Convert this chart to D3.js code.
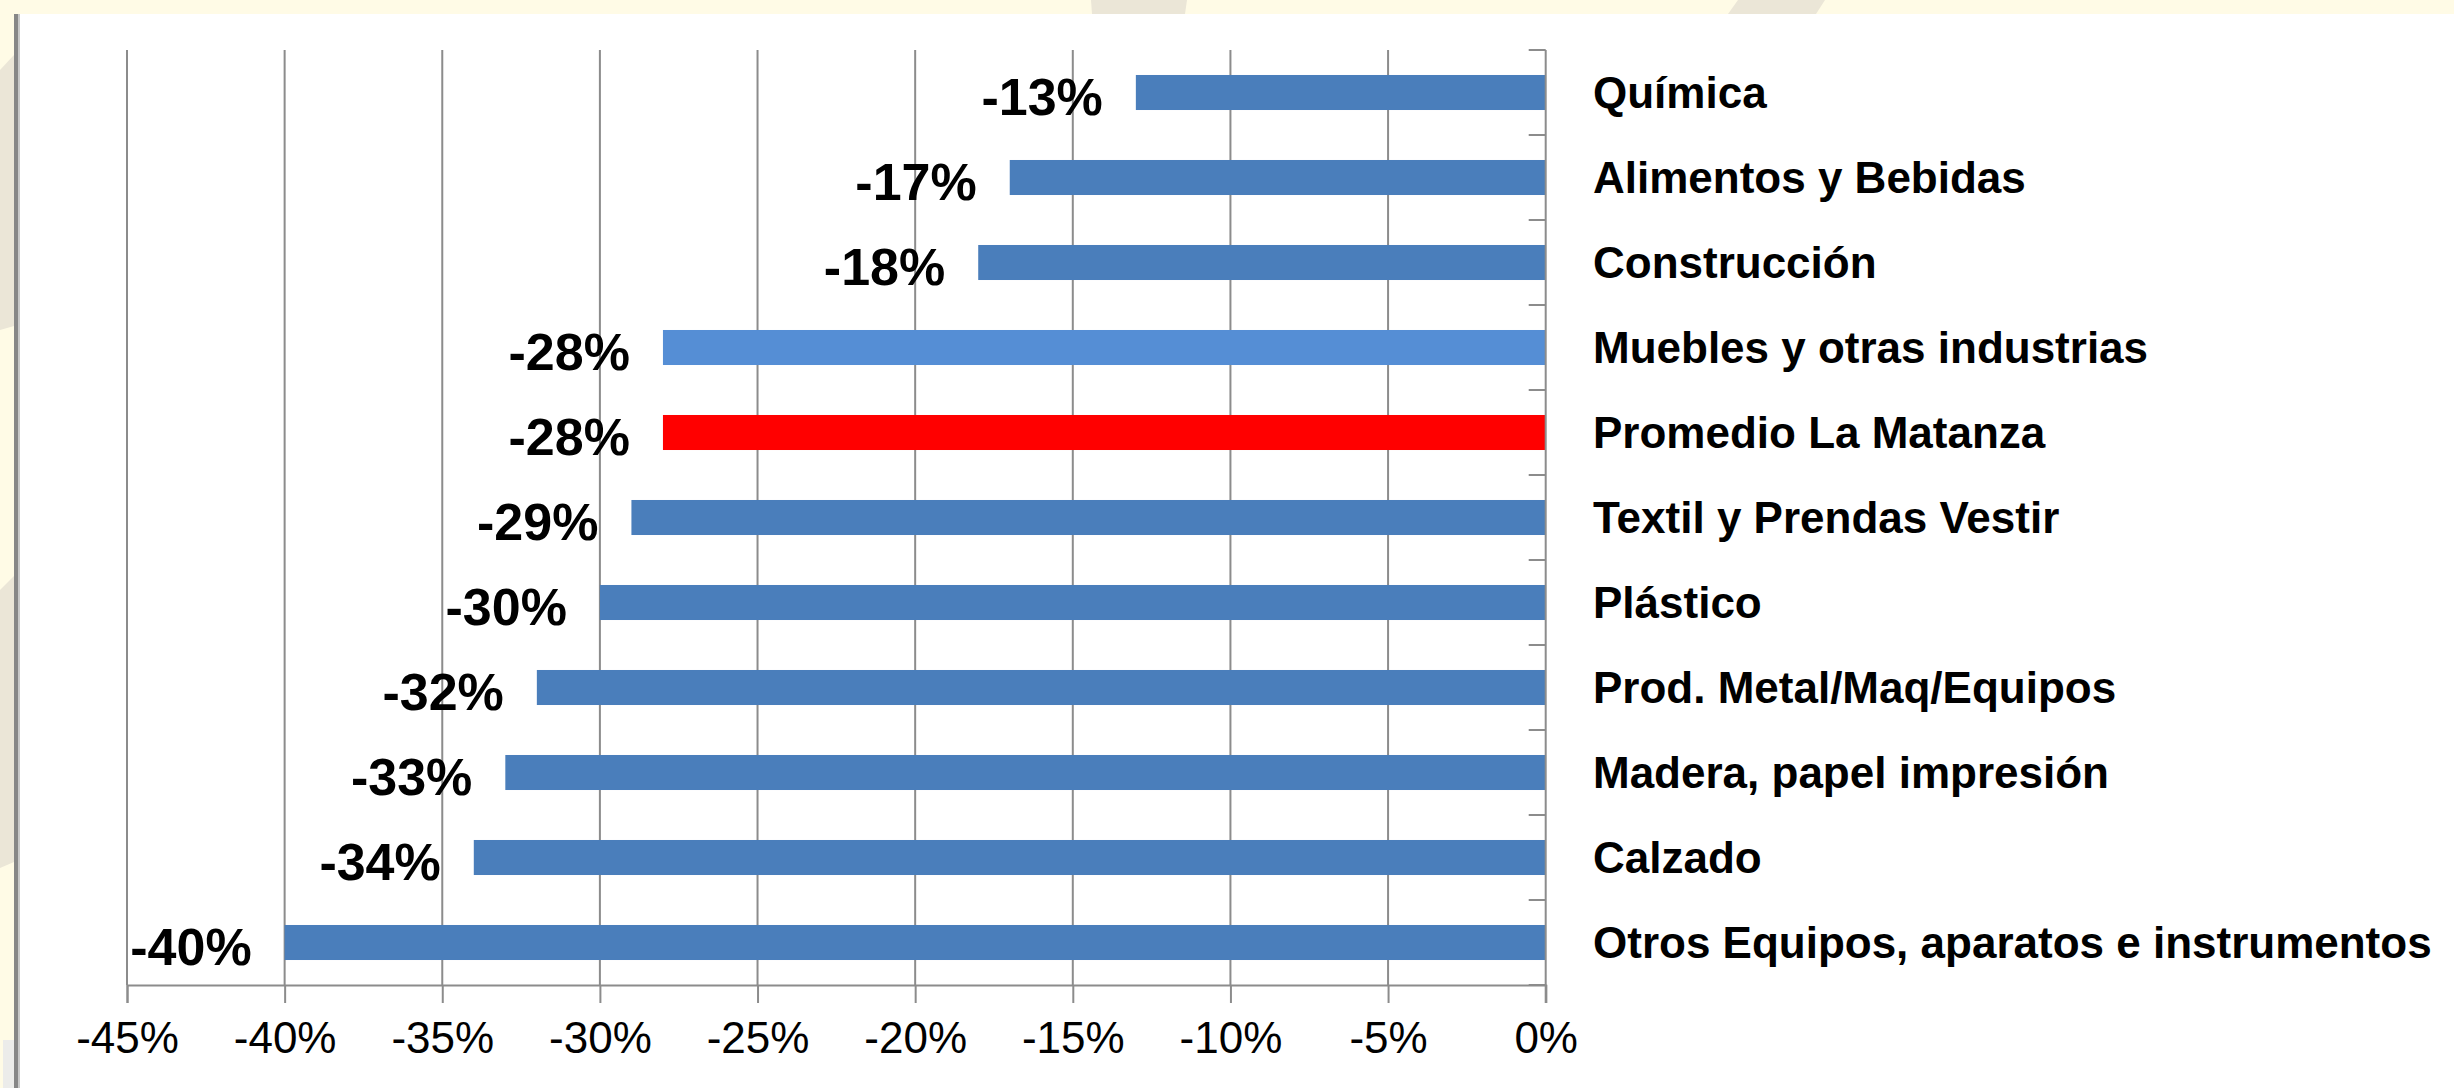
<!DOCTYPE html>
<html>
<head>
<meta charset="utf-8">
<script src="https://cdn.jsdelivr.net/npm/d3@7"></script>
<style>
  html, body { margin: 0; padding: 0; background: #fffbe6; overflow: hidden; }
  svg text { font-family: "Liberation Sans", Arial, sans-serif; fill: #000; }
</style>
</head>
<body>
<div id="chart"></div>
<script>
// data
var categories = [
  "Química",
  "Alimentos y Bebidas",
  "Construcción",
  "Muebles y otras industrias",
  "Promedio La Matanza",
  "Textil y Prendas Vestir",
  "Plástico",
  "Prod. Metal/Maq/Equipos",
  "Madera, papel impresión",
  "Calzado",
  "Otros Equipos, aparatos e instrumentos"
];
var values = [-13, -17, -18, -28, -28, -29, -30, -32, -33, -34, -40];
var xTicks = [-45, -40, -35, -30, -25, -20, -15, -10, -5, 0];

// look
var width      = 2454,
    height     = 1088,
    barColor   = "#4a7ebb",
    gridColor  = "#8c8c8c",
    special    = { "Muebles y otras industrias": "#558ed5", "Promedio La Matanza": "#ff0000" };

var svg = d3.select("#chart").append("svg")
    .attr("width", width)
    .attr("height", height);

// background: cream frame with faint watermark shapes, white panel on top
svg.append("rect").attr("width", width).attr("height", height).style("fill", "#fffbe6");
var shapes = [
  [[1091, 0], [1187, 0], [1185, 14], [1092, 14]],
  [[1738, 0], [1825, 0], [1816, 14], [1728, 14]],
  [[0, 70], [14, 55], [14, 326], [0, 330]],
  [[0, 590], [14, 576], [14, 862], [0, 868]]
];
shapes.forEach(function (p) {
  svg.append("polygon")
    .attr("points", p.join(" "))
    .style("fill", "#ebe6d7");
});
svg.append("rect")
  .attr("x", 3).attr("y", 1040)
  .attr("width", 11).attr("height", 48)
  .style("fill", "#ececea");
svg.append("rect")
  .attr("x", 14).attr("y", 14)
  .attr("width", width - 14).attr("height", height - 14)
  .style("fill", "#fff");
svg.append("rect")
  .attr("x", 14).attr("y", 14)
  .attr("width", 4).attr("height", height - 14)
  .style("fill", "#878787");
svg.append("rect")
  .attr("x", 18).attr("y", 14)
  .attr("width", 2).attr("height", height - 14)
  .style("fill", "#c8c8c8");

// scales
var x = d3.scaleLinear().domain([-45, 0]).range([127, 1545.7]);
var y = d3.scaleBand().domain(categories).range([50, 985])
    .paddingInner(0.588).paddingOuter(0.294);
var step = y.step();

// vertical gridlines
svg.append("g").selectAll("line")
  .data(xTicks.filter(function (d) { return d !== 0; }))
  .enter().append("line")
  .attr("x1", function (d) { return x(d); })
  .attr("x2", function (d) { return x(d); })
  .attr("y1", 50).attr("y2", 985)
  .style("stroke", gridColor)
  .style("stroke-width", 2);

// bars
svg.append("g").selectAll("rect")
  .data(values)
  .enter().append("rect")
  .attr("x", function (d) { return x(d); })
  .attr("y", function (d, i) { return y(categories[i]); })
  .attr("width", function (d) { return x(0) - x(d); })
  .attr("height", y.bandwidth())
  .style("fill", function (d, i) { return special[categories[i]] || barColor; });

// value labels
svg.append("g").selectAll("text")
  .data(values)
  .enter().append("text")
  .attr("x", function (d) { return x(d) - 33; })
  .attr("y", function (d, i) { return y(categories[i]) + y.bandwidth() / 2; })
  .attr("dy", "0.44em")
  .attr("text-anchor", "end")
  .style("font-size", "52px")
  .style("font-weight", "bold")
  .text(function (d) { return d + "%"; });

// x axis
var xAxis = d3.axisBottom(x)
  .tickValues(xTicks)
  .tickSize(18)
  .tickPadding(18)
  .tickFormat(function (d) { return d + "%"; });
var gx = svg.append("g")
  .attr("transform", "translate(0,985)")
  .call(xAxis);
gx.select(".domain").style("stroke", gridColor).style("stroke-width", 2);
gx.selectAll(".tick line").style("stroke", gridColor).style("stroke-width", 2);
gx.selectAll(".tick text")
  .attr("dy", "0.72em")
  .style("font-size", "44px")
  .style("font-family", "'Liberation Sans', Arial, sans-serif");

// category axis at 0 with ticks between categories
svg.append("line")
  .attr("x1", x(0)).attr("x2", x(0))
  .attr("y1", 50).attr("y2", 1003)
  .style("stroke", gridColor).style("stroke-width", 2);
svg.append("g").selectAll("line")
  .data(d3.range(categories.length + 1))
  .enter().append("line")
  .attr("x1", x(0) - 17).attr("x2", x(0))
  .attr("y1", function (i) { return 50 + i * step; })
  .attr("y2", function (i) { return 50 + i * step; })
  .style("stroke", gridColor).style("stroke-width", 2);

// category labels
svg.append("g").selectAll("text")
  .data(categories)
  .enter().append("text")
  .attr("x", 1593)
  .attr("y", function (d) { return y(d) + y.bandwidth() / 2; })
  .attr("dy", "0.35em")
  .style("font-size", "44px")
  .style("font-weight", "bold")
  .text(function (d) { return d; });
</script>
</body>
</html>
